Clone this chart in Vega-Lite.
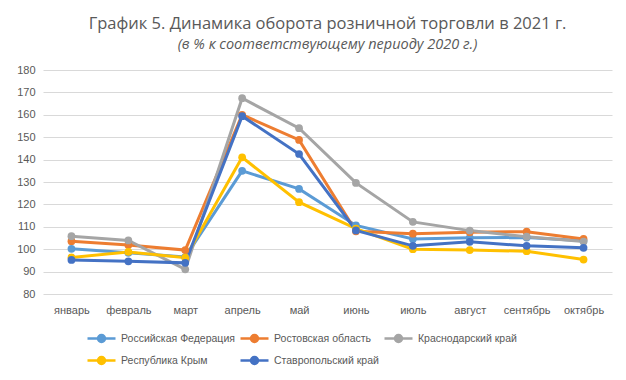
{
  "$schema": "https://vega.github.io/schema/vega-lite/v6.json",
  "width": 569,
  "height": 224,
  "padding": {"left": 16, "top": 16, "right": 10, "bottom": 5},
  "background": "white",
  "title": {
    "text": "График 5. Динамика оборота розничной торговли в 2021 г.",
    "subtitle": "(в % к соответствующему периоду 2020 г.)",
    "anchor": "middle",
    "fontSize": 16.5,
    "font": "Open Sans",
    "fontWeight": "normal",
    "color": "#595959",
    "subtitleFontSize": 14.5,
    "subtitleFont": "Open Sans",
    "subtitleFontStyle": "italic",
    "subtitleColor": "#595959",
    "subtitlePadding": 5,
    "offset": 13
  },
  "data": {
    "values": [
      {"month": "январь", "region": "Российская Федерация", "value": 100.2},
      {"month": "февраль", "region": "Российская Федерация", "value": 98.4},
      {"month": "март", "region": "Российская Федерация", "value": 96.5},
      {"month": "апрель", "region": "Российская Федерация", "value": 135.0},
      {"month": "май", "region": "Российская Федерация", "value": 126.9},
      {"month": "июнь", "region": "Российская Федерация", "value": 110.6},
      {"month": "июль", "region": "Российская Федерация", "value": 104.6},
      {"month": "август", "region": "Российская Федерация", "value": 105.1},
      {"month": "сентябрь", "region": "Российская Федерация", "value": 105.2},
      {"month": "октябрь", "region": "Российская Федерация", "value": 103.8},

      {"month": "январь", "region": "Ростовская область", "value": 103.6},
      {"month": "февраль", "region": "Ростовская область", "value": 101.9},
      {"month": "март", "region": "Ростовская область", "value": 99.6},
      {"month": "апрель", "region": "Ростовская область", "value": 160.0},
      {"month": "май", "region": "Ростовская область", "value": 148.8},
      {"month": "июнь", "region": "Ростовская область", "value": 108.0},
      {"month": "июль", "region": "Ростовская область", "value": 106.9},
      {"month": "август", "region": "Ростовская область", "value": 107.6},
      {"month": "сентябрь", "region": "Ростовская область", "value": 107.8},
      {"month": "октябрь", "region": "Ростовская область", "value": 104.6},

      {"month": "январь", "region": "Краснодарский край", "value": 105.8},
      {"month": "февраль", "region": "Краснодарский край", "value": 103.9},
      {"month": "март", "region": "Краснодарский край", "value": 91.0},
      {"month": "апрель", "region": "Краснодарский край", "value": 167.4},
      {"month": "май", "region": "Краснодарский край", "value": 154.0},
      {"month": "июнь", "region": "Краснодарский край", "value": 129.6},
      {"month": "июль", "region": "Краснодарский край", "value": 112.2},
      {"month": "август", "region": "Краснодарский край", "value": 108.3},
      {"month": "сентябрь", "region": "Краснодарский край", "value": 105.6},
      {"month": "октябрь", "region": "Краснодарский край", "value": 103.4},

      {"month": "январь", "region": "Республика Крым", "value": 96.3},
      {"month": "февраль", "region": "Республика Крым", "value": 98.8},
      {"month": "март", "region": "Республика Крым", "value": 96.2},
      {"month": "апрель", "region": "Республика Крым", "value": 141.0},
      {"month": "май", "region": "Республика Крым", "value": 121.0},
      {"month": "июнь", "region": "Республика Крым", "value": 109.2},
      {"month": "июль", "region": "Республика Крым", "value": 100.0},
      {"month": "август", "region": "Республика Крым", "value": 99.6},
      {"month": "сентябрь", "region": "Республика Крым", "value": 99.1},
      {"month": "октябрь", "region": "Республика Крым", "value": 95.4},

      {"month": "январь", "region": "Ставропольский край", "value": 95.2},
      {"month": "февраль", "region": "Ставропольский край", "value": 94.6},
      {"month": "март", "region": "Ставропольский край", "value": 93.9},
      {"month": "апрель", "region": "Ставропольский край", "value": 159.4},
      {"month": "май", "region": "Ставропольский край", "value": 142.5},
      {"month": "июнь", "region": "Ставропольский край", "value": 108.4},
      {"month": "июль", "region": "Ставропольский край", "value": 101.5},
      {"month": "август", "region": "Ставропольский край", "value": 103.3},
      {"month": "сентябрь", "region": "Ставропольский край", "value": 101.5},
      {"month": "октябрь", "region": "Ставропольский край", "value": 100.6}
    ]
  },
  "mark": {"type": "line", "point": {"filled": true, "size": 60}, "strokeWidth": 3},
  "encoding": {
    "x": {
      "field": "month",
      "type": "ordinal",
      "sort": ["январь", "февраль", "март", "апрель", "май", "июнь", "июль", "август", "сентябрь", "октябрь"],
      "scale": {"type": "point", "padding": 0.5},
      "axis": {
        "title": null,
        "labelAngle": 0,
        "domain": false,
        "ticks": false,
        "grid": false,
        "labelPadding": 10,
        "labelFontSize": 11,
        "labelColor": "#595959",
        "labelFont": "Liberation Sans"
      }
    },
    "y": {
      "field": "value",
      "type": "quantitative",
      "scale": {"domain": [80, 180], "nice": false, "zero": false},
      "axis": {
        "title": null,
        "values": [80, 90, 100, 110, 120, 130, 140, 150, 160, 170, 180],
        "domain": false,
        "ticks": false,
        "gridColor": "#d9d9d9",
        "gridWidth": 1,
        "labelPadding": 8,
        "labelFontSize": 11,
        "labelColor": "#595959",
        "labelFont": "Liberation Sans"
      }
    },
    "color": {
      "field": "region",
      "type": "nominal",
      "sort": ["Российская Федерация", "Ростовская область", "Краснодарский край", "Республика Крым", "Ставропольский край"],
      "scale": {
        "domain": ["Российская Федерация", "Ростовская область", "Краснодарский край", "Республика Крым", "Ставропольский край"],
        "range": ["#5B9BD5", "#ED7D31", "#A5A5A5", "#FFC000", "#4472C4"]
      },
      "legend": {
        "title": null,
        "orient": "none",
        "legendX": 50,
        "legendY": 260,
        "direction": "horizontal",
        "columns": 3,
        "symbolType": "M-2,0L2,0M-0.5,0A0.5,0.5 0 1,0 0.5,0A0.5,0.5 0 1,0 -0.5,0Z",
        "symbolSize": 196,
        "symbolStrokeWidth": 2.5,
        "labelFontSize": 10.5,
        "labelColor": "#595959",
        "labelFont": "Liberation Sans",
        "labelOffset": 11,
        "columnPadding": 0,
        "rowPadding": 5
      }
    }
  },
  "config": {
    "view": {"stroke": null}
  }
}
